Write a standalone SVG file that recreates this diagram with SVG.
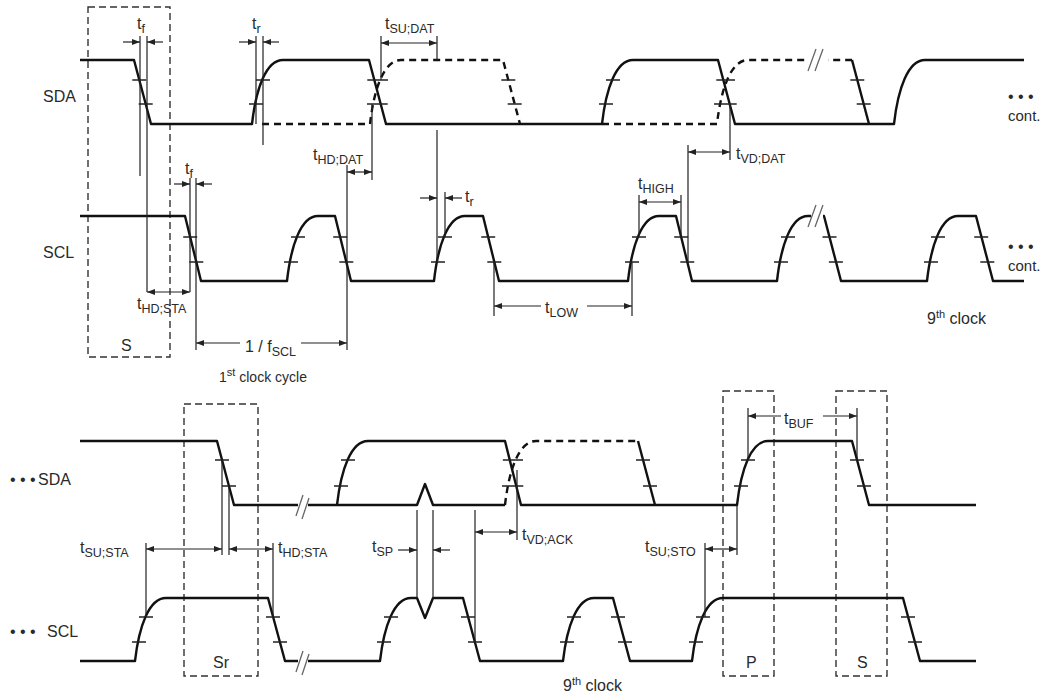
<svg xmlns="http://www.w3.org/2000/svg" width="1044" height="697" viewBox="0 0 1044 697">
<style>
.w{fill:none;stroke:#111;stroke-width:2.4;stroke-linejoin:round}
.wd{fill:none;stroke:#111;stroke-width:2.4;stroke-dasharray:7 5}
.tk{fill:none;stroke:#222;stroke-width:1.4}
.box{fill:none;stroke:#333;stroke-width:1.4;stroke-dasharray:7 4}
.dim{fill:none;stroke:#222;stroke-width:1.2}
.arr{fill:none;stroke:#222;stroke-width:1.2;marker-end:url(#ah)}
.arr2{fill:none;stroke:#222;stroke-width:1.2;marker-start:url(#ah);marker-end:url(#ah)}
.brk{fill:none;stroke:#666;stroke-width:1.3}
text{font-family:"Liberation Sans",Arial,sans-serif;font-size:16px;fill:#2a2a2a}
.sub{font-size:12.5px}
.sup{font-size:11px}
</style>
<defs>
<marker id="ah" viewBox="0 0 8 6" refX="8" refY="3" markerWidth="8" markerHeight="6" markerUnits="userSpaceOnUse" orient="auto-start-reverse">
<path d="M0,0 L8,3 L0,6 z" fill="#222"/>
</marker>
</defs>
<rect width="1044" height="697" fill="#fff"/>

<g id="boxes">
<rect id="box-S-top" class="box" x="88" y="7" width="82" height="350"/>
<rect id="box-Sr" class="box" x="184" y="404" width="74" height="272"/>
<rect id="box-P" class="box" x="723" y="391" width="51" height="285"/>
<rect id="box-S-bottom" class="box" x="836" y="391" width="51" height="285"/>
</g>

<g id="sda-top">
<path class="w" d="M80 60 L134 60 L151 124 L252 124 C256 88.8 266 60 283 60 L369 60 L386 124 L602 124 C606 88.8 616 60 633 60 L718 60 L735 124 L894 124 C898 88.8 908 60 925 60 L1024 60"/>
<path class="wd" d="M262 124 L370 124 C374 88.8 384 60 401 60 L503 60 L520 124"/>
<path class="wd" d="M602 124 L717 124 C721 88.8 731 60 748 60 L852 60"/>
<path class="w" d="M852 60 L869 124"/>
<path class="tk" d="M132.3 80h14 M138.7 104h14 M256 80h14 M249 104h14 M367.3 80h14 M373.7 104h14 M374 80h14 M367 104h14 M501.3 80h14 M507.7 104h14 M606 80h14 M599 104h14 M716.3 80h14 M722.7 104h14 M721 80h14 M714 104h14 M850.3 80h14 M856.7 104h14"/>
<path d="M808 58 h20 v4 h-20z" fill="#fff"/>
<path class="brk" d="M808 71 L816 49 M815 71 L823 49"/>
</g>

<g id="scl-top">
<path class="w" d="M80 216 L185 216 L201 281 L287 281 C291 245.3 301 216 318 216 L335 216 L351 281 L434 281 C438 245.3 448 216 465 216 L483 216 L499 281 L628 281 C632 245.3 642 216 659 216 L676 216 L692 281 L777 281 C781 245.3 791 216 808 216 L824 216 L841 281 L927 281 C931 245.3 941 216 958 216 L976 216 L993 281 L1024 281"/>
<path class="tk" d="M183.2 237h14 M189.3 262h14 M291 237h14 M284 262h14 M333.2 237h14 M339.3 262h14 M438 237h14 M431 262h14 M481.2 237h14 M487.3 262h14 M632 237h14 M625 262h14 M674.2 237h14 M680.3 262h14 M781 237h14 M774 262h14 M822.5 237h14 M828.9 262h14 M931 237h14 M924 262h14 M974.2 237h14 M980.3 262h14"/>
<path d="M811 213 h12 v5 h-12z" fill="#fff"/>
<path class="brk" d="M808 227 L816 205 M815 227 L823 205"/>
</g>

<g id="sda-bottom">
<path class="w" d="M80 441 L217 441 L234 505 L417 505 L425 484 L433 505 L505 505"/>
<path class="w" d="M337 505 C341 469.8 351 441 368 441 L505 441 L521 505 L737 505 C741 469.8 751 441 768 441 L852 441 L869 505 L976 505"/>
<path class="wd" d="M505 505 C509 469.8 519 441 536 441 L638 441"/>
<path class="w" d="M638 441 L655 505"/>
<path class="tk" d="M215 460h14 M222 486h14 M341 460h14 M334 486h14 M502.8 460h14 M509.3 486h14 M509 460h14 M502 486h14 M636 460h14 M643 486h14 M741 460h14 M734 486h14 M850 460h14 M857 486h14"/>
<path d="M298 503 h10 v4 h-10z" fill="#fff"/>
<path class="brk" d="M296 516 L303 495 M302 519 L309 498"/>
</g>

<g id="scl-bottom">
<path class="w" d="M80 661 L135 661 C139 626.4 149 598 166 598 L268 598 L285 661 L380 661 C384 626.4 394 598 411 598 L417 598 L425 618 L433 598 L463 598 L480 661 L563 661 C567 626.4 577 598 594 598 L613 598 L630 661 L692 661 C696 626.4 706 598 723 598 L903 598 L920 661 L976 661"/>
<path class="tk" d="M139 617h14 M132 642h14 M266 617h14 M273 642h14 M384 617h14 M377 642h14 M461 617h14 M468 642h14 M567 617h14 M560 642h14 M611 617h14 M618 642h14 M696 617h14 M689 642h14 M901 617h14 M908 642h14"/>
<path d="M298 659 h10 v4 h-10z" fill="#fff"/>
<path class="brk" d="M296 672 L303 651 M302 675 L309 654"/>
</g>

<g id="connectors">
<!-- top: tf (SDA) -->
<path class="dim" d="M140 36 V176 M147 36 V292"/>
<path class="arr" d="M123 42 H140"/>
<path class="arr" d="M163 42 H147"/>
<!-- tr (SDA) -->
<path class="dim" d="M256 36 V124 M263 36 V145"/>
<path class="arr" d="M239 42 H256"/>
<path class="arr" d="M279 42 H263"/>
<!-- tSU;DAT -->
<path class="dim" d="M381 36 V80 M437 36 V60 M437 130 V262"/>
<path class="arr2" d="M381 43 H437"/>
<!-- tHD;DAT -->
<path class="dim" d="M372 104 V180 M347 165 V350"/>
<path class="arr2" d="M347 172 H372"/>
<!-- tVD;DAT -->
<path class="dim" d="M730 104 V160 M688 145 V262"/>
<path class="arr2" d="M688 152 H730"/>
<!-- tf (SCL) -->
<path class="dim" d="M190 178 V292 M196 178 V350"/>
<path class="arr" d="M174 184 H190"/>
<path class="arr" d="M212 184 H196"/>
<!-- tHD;STA top -->
<path class="arr2" d="M147 292 H190"/>
<!-- 1/fSCL -->
<path class="arr" d="M240 343 H196"/>
<path class="arr" d="M301 343 H347"/>
<!-- tr (SCL) -->
<path class="dim" d="M445 192 V237"/>
<path class="arr" d="M420 198 H437"/>
<path class="arr" d="M462 198 H445"/>
<!-- tHIGH -->
<path class="dim" d="M639 195 V237 M681 195 V237"/>
<path class="arr2" d="M639 202 H681"/>
<!-- tLOW -->
<path class="dim" d="M494 262 V316 M632 262 V316"/>
<path class="arr" d="M541 306 H494"/>
<path class="arr" d="M587 306 H632"/>

<!-- bottom: tSU;STA / tHD;STA -->
<path class="dim" d="M146 543 V617 M222 460 V555 M229 486 V555 M273 543 V617"/>
<path class="arr2" d="M146 549 H222"/>
<path class="arr2" d="M229 549 H273"/>
<!-- tSP -->
<path class="dim" d="M417 510 V598 M433 510 V598"/>
<path class="arr" d="M398 550 H417"/>
<path class="arr" d="M450 550 H433"/>
<!-- tVD;ACK -->
<path class="dim" d="M475 510 V642 M517 470 V540"/>
<path class="arr2" d="M475 532 H517"/>
<!-- tSU;STO -->
<path class="dim" d="M705 543 V617 M737 505 V555"/>
<path class="arr2" d="M705 549 H737"/>
<!-- tBUF -->
<path class="dim" d="M748 408 V460 M857 408 V460"/>
<path class="arr" d="M781 416 H748"/>
<path class="arr" d="M823 416 H857"/>
</g>

<g id="labels">
<text x="43" y="102">SDA</text>
<text x="43" y="258">SCL</text>
<text x="1008" y="102">• • •</text>
<text x="1008" y="121" style="font-size:15px">cont.</text>
<text x="1008" y="252">• • •</text>
<text x="1008" y="271" style="font-size:15px">cont.</text>
<text x="10" y="485">• • •</text>
<text x="38" y="485">SDA</text>
<text x="10" y="637">• • •</text>
<text x="47" y="637">SCL</text>

<text x="137" y="29">t<tspan class="sub" dy="4">f</tspan></text>
<text x="252" y="29">t<tspan class="sub" dy="4">r</tspan></text>
<text x="385" y="29">t<tspan class="sub" dy="4">SU;DAT</tspan></text>
<text x="313" y="160">t<tspan class="sub" dy="4">HD;DAT</tspan></text>
<text x="736" y="159">t<tspan class="sub" dy="4">VD;DAT</tspan></text>
<text x="185" y="174">t<tspan class="sub" dy="4">f</tspan></text>
<text x="465" y="202">t<tspan class="sub" dy="4">r</tspan></text>
<text x="638" y="189">t<tspan class="sub" dy="4">HIGH</tspan></text>
<text x="137" y="309">t<tspan class="sub" dy="4">HD;STA</tspan></text>
<text x="545" y="313">t<tspan class="sub" dy="4">LOW</tspan></text>
<text x="245" y="352">1 / f<tspan class="sub" dy="4">SCL</tspan></text>
<text x="121" y="351">S</text>
<text x="219" y="382" style="font-size:14px">1<tspan class="sup" dy="-6">st</tspan><tspan dy="6"> clock cycle</tspan></text>
<text x="927" y="324">9<tspan class="sup" dy="-6">th</tspan><tspan dy="6"> clock</tspan></text>

<text x="80" y="553">t<tspan class="sub" dy="4">SU;STA</tspan></text>
<text x="278" y="553">t<tspan class="sub" dy="4">HD;STA</tspan></text>
<text x="372" y="552">t<tspan class="sub" dy="4">SP</tspan></text>
<text x="522" y="540">t<tspan class="sub" dy="4">VD;ACK</tspan></text>
<text x="645" y="552">t<tspan class="sub" dy="4">SU;STO</tspan></text>
<text x="784" y="424">t<tspan class="sub" dy="4">BUF</tspan></text>
<text x="213" y="668">Sr</text>
<text x="746" y="668">P</text>
<text x="857" y="668">S</text>
<text x="563" y="691">9<tspan class="sup" dy="-6">th</tspan><tspan dy="6"> clock</tspan></text>
</g>
</svg>
